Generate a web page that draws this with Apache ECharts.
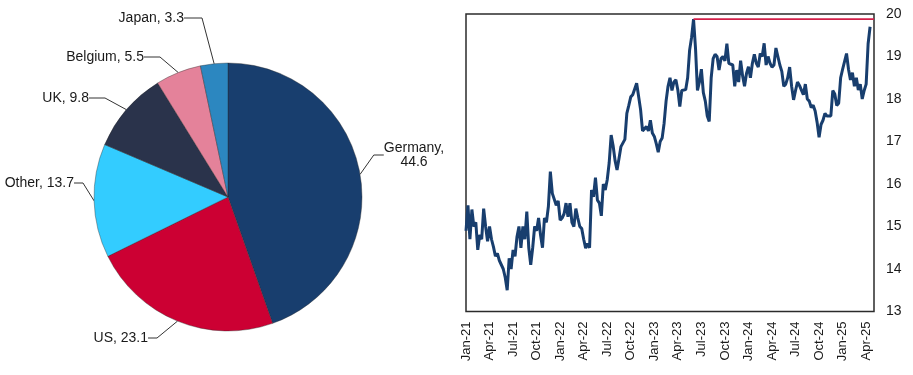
<!DOCTYPE html>
<html>
<head>
<meta charset="utf-8">
<script src="https://cdn.jsdelivr.net/npm/echarts@6/dist/echarts.min.js"></script>
<style>
html,body{margin:0;padding:0;background:#fff;}
#chart{width:913px;height:375px;}
</style>
</head>
<body>
<div id="chart"></div>
<script>
// ---- Pie data ----
var pieNames  = ['Germany', 'US', 'Other', 'UK', 'Belgium', 'Japan'];
var pieValues = [44.6, 23.1, 13.7, 9.8, 5.5, 3.3];

// ---- Line data: quarter-month steps starting Jan 2021 ----
var v2021 = [14.9,15.5,14.7,15.4,15.0,15.1,14.45,14.8,14.7,15.42,15.0,14.65,
             15.0,14.7,14.52,14.3,14.37,14.2,14.1,14.0,13.8,13.5,14.25,14.0,
             14.45,14.3,14.76,15.0,14.5,15.0,14.7,15.35,14.5,14.1,14.5,15.0,
             14.9,15.2,14.8,14.5,15.2,15.1,15.47,16.29,15.78,15.8,15.5,15.6];
var v2022 = [15.15,15.2,15.3,15.55,15.23,15.55,15.1,15.0,15.42,15.2,15.0,14.95,
             14.7,14.49,14.6,14.5,15.86,15.7,16.15,15.62,15.55,15.25,16.0,15.86,
             16.1,16.5,17.15,16.9,16.55,16.33,16.6,16.88,16.85,17.05,17.66,17.85,
             18.05,18.1,18.1,18.37,18.35,17.75,17.25,17.25,17.35,17.25,17.5,17.2];
var v2023 = [17.12,16.95,16.75,17.0,17.08,17.43,17.95,18.3,18.5,18.2,18.4,18.45,
             18.21,17.82,18.2,18.2,18.22,18.5,19.15,19.45,19.88,19.2,18.2,18.4,
             18.7,18.15,17.95,17.6,17.47,18.5,18.95,19.05,19.0,18.68,18.95,19.0,
             18.9,19.3,18.84,18.85,18.8,18.3,18.68,18.4,18.9,18.55,18.3,18.6];
var v2024 = [18.76,18.5,18.84,19.05,18.84,18.75,19.07,19.0,19.31,18.8,19.0,18.84,
             18.75,18.8,19.2,19.0,18.8,18.65,18.3,18.35,18.5,18.75,18.3,17.98,
             18.2,18.4,18.32,18.21,18.1,18.35,18.0,17.95,17.8,17.85,17.72,17.45,
             17.1,17.4,17.5,17.66,17.6,17.62,17.6,18.2,18.12,17.85,17.9,18.5];
var v2025 = [18.7,18.7,19.07,18.7,18.45,18.62,18.3,18.5,18.21,18.35,18.0,18.2,
             18.35,19.3,19.7];

var xTickLabels = ['Jan-21','Apr-21','Jul-21','Oct-21','Jan-22','Apr-22','Jul-22','Oct-22',
                   'Jan-23','Apr-23','Jul-23','Oct-23','Jan-24','Apr-24','Jul-24','Oct-24',
                   'Jan-25','Apr-25'];
var yTicks = [13, 14, 15, 16, 17, 18, 19, 20];

// ---- build ----
var allVals = v2021.concat(v2022, v2023, v2024, v2025);
var STEP = 0.25; // months per point
var lineData = allVals.map(function (v, i) { return [i * STEP, v]; });
var xMax = 52;
var peakVal = Math.max.apply(null, allVals);
var peakIdx = allVals.indexOf(peakVal);
var peakLine = [[peakIdx * STEP, peakVal], [xMax, peakVal]];

var pieColors = ['#183E6E', '#CC0033', '#33CCFF', '#2A334B', '#E4829A', '#2C87C0'];
// label placement (x, y, align, leader length2)
var labelPlace = {
  'Germany': [414, 155, 'center', 10],
  'US':      [148, 338, 'right', 9],
  'Other':   [74, 183, 'right', 9],
  'UK':      [89, 98, 'right', 16],
  'Belgium': [144, 57, 'right', 16],
  'Japan':   [184, 18, 'right', 18]
};

var pieData = pieNames.map(function (n, i) {
  return {
    name: n, value: pieValues[i],
    itemStyle: { color: pieColors[i] },
    labelLine: { length2: labelPlace[n][3] }
  };
});

var chart = echarts.init(document.getElementById('chart'), null, { renderer: 'canvas' });
var font = 'Liberation Sans, Arial, sans-serif';

chart.setOption({
  backgroundColor: '#ffffff',
  animation: false,
  grid: {
    left: 466, right: 39, top: 14, bottom: 63.5,
    show: true, borderColor: '#2b2b2b', borderWidth: 1.5, backgroundColor: 'transparent'
  },
  xAxis: {
    type: 'value', min: 0, max: xMax, interval: 3,
    axisLine: { show: false }, axisTick: { show: false }, splitLine: { show: false },
    axisLabel: {
      rotate: 90, margin: 10, fontSize: 13, fontFamily: font, color: '#1a1a1a',
      showMaxLabel: false,
      formatter: function (v) { var k = Math.round(v / 3); return xTickLabels[k] || ''; }
    }
  },
  yAxis: {
    type: 'value', position: 'right', min: yTicks[0], max: yTicks[yTicks.length - 1], interval: 1,
    axisLine: { show: false }, axisTick: { show: false }, splitLine: { show: false },
    axisLabel: { margin: 12, fontSize: 14, fontFamily: font, color: '#1a1a1a' }
  },
  series: [
    {
      type: 'pie',
      center: [228, 197],
      radius: 134,
      startAngle: 90,
      clockwise: true,
      data: pieData,
      itemStyle: { borderColor: 'rgba(40,40,40,0.55)', borderWidth: 0.7 },
      label: {
        show: true, position: 'outside', fontSize: 14, fontFamily: font, color: '#1a1a1a',
        overflow: 'none', width: 140, edgeDistance: 0, bleedMargin: 0,
        formatter: function (p) {
          return p.name === 'Germany' ? p.name + ',\n' + p.value : p.name + ', ' + p.value;
        }
      },
      labelLine: { show: true, length: 12, length2: 10, smooth: false,
                   lineStyle: { color: '#333333', width: 1 } },
      labelLayout: function (p) {
        var pl = labelPlace[pieNames[p.dataIndex]];
        return { x: pl[0], y: pl[1], align: pl[2], verticalAlign: 'middle' };
      },
      emphasis: { disabled: true }
    },
    {
      type: 'line',
      data: lineData,
      showSymbol: false,
      lineStyle: { color: '#183E6E', width: 3 },
      z: 3
    },
    {
      type: 'line',
      data: peakLine,
      showSymbol: false,
      lineStyle: { color: '#D21F48', width: 1.8 },
      z: 4
    }
  ]
});
</script>
</body>
</html>
